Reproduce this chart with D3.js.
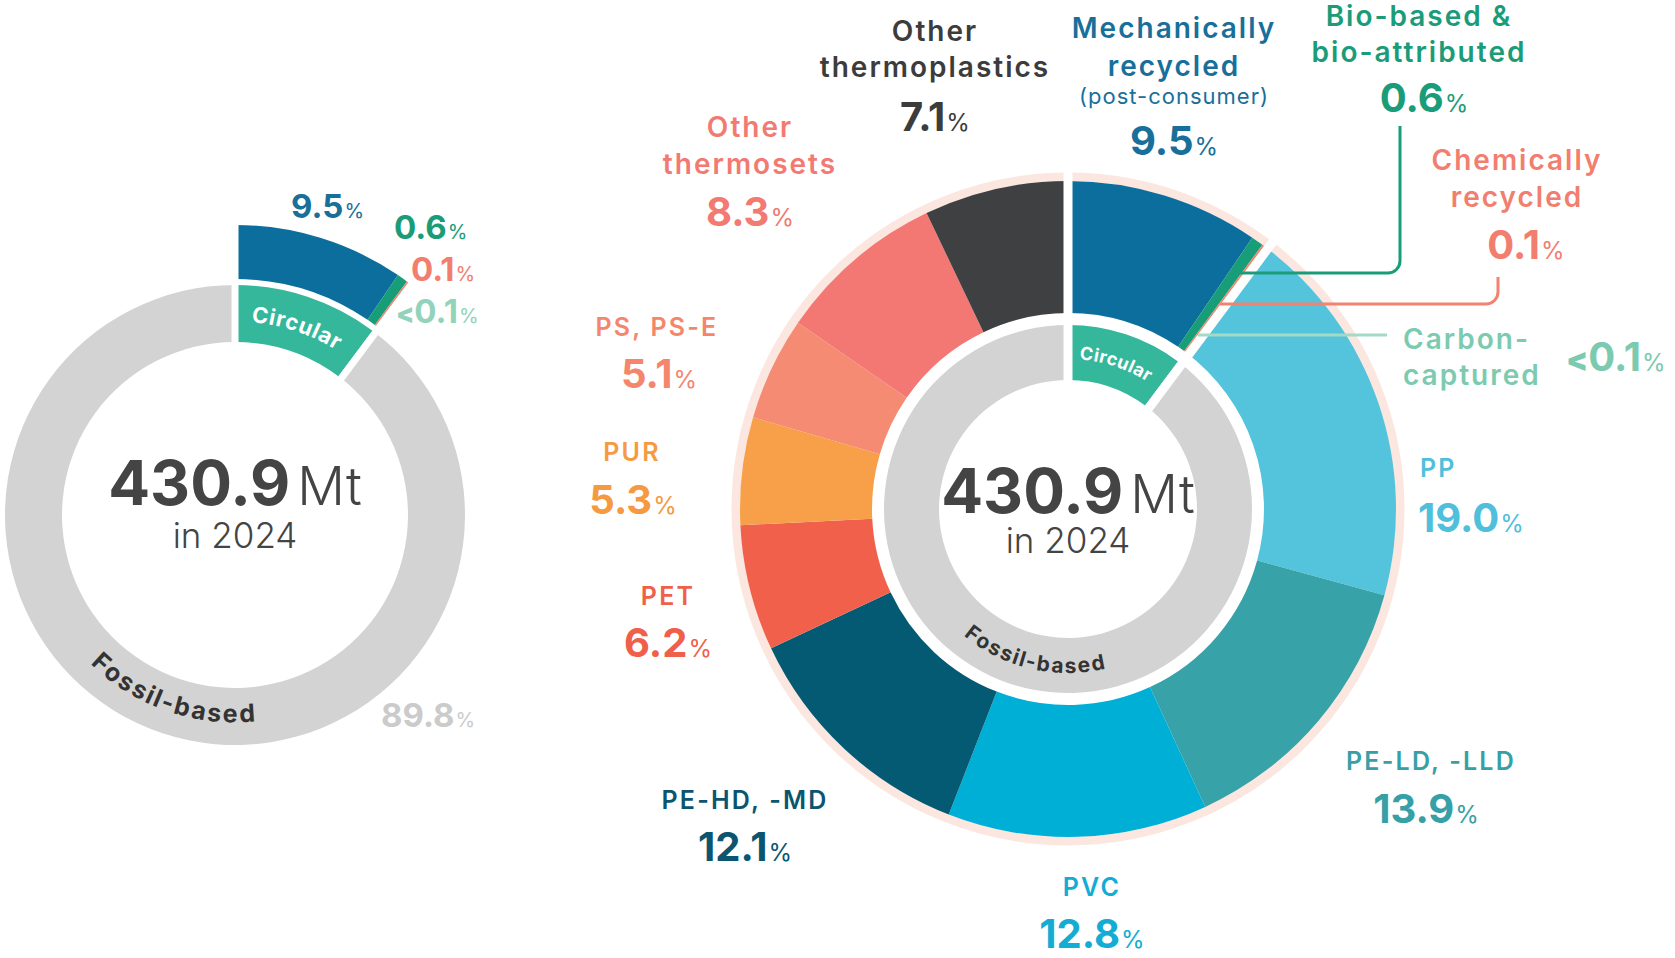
<!DOCTYPE html>
<html>
<head>
<meta charset="utf-8">
<script src="https://cdn.jsdelivr.net/npm/d3@7"></script>
<style>
  body { margin: 0; background: #fff; }
  svg { display: block; }
  text { font-family: Inter, "Open Sans", sans-serif; }
</style>
</head>
<body>
<svg id="chart" width="1675" height="958"></svg>
<script>
// ---- data (shares of 2024 plastics production, %)
const circularNames = ["Mechanically\nrecycled", "Bio-based &\nbio-attributed", "Chemically\nrecycled", "Carbon-\ncaptured"];
const circularShares = [9.5, 0.6, 0.1, 0.05];
const circularText = ["9.5", "0.6", "0.1", "<0.1"];

const fossilNames = ["PP", "PE-LD, -LLD", "PVC", "PE-HD, -MD", "PET", "PUR", "PS, PS-E", "Other\nthermosets", "Other\nthermoplastics"];
const fossilShares = [19.0, 13.9, 12.8, 12.1, 6.2, 5.3, 5.1, 8.3, 7.1];
const fossilText = ["19.0", "13.9", "12.8", "12.1", "6.2", "5.3", "5.1", "8.3", "7.1"];

const groupNames = ["Circular", "Fossil-based"];
const groupShares = [10.2, 89.8];
const groupText = ["", "89.8"];

const totalMt = "430.9";
const yearText = "in 2024";

// ---- colours
const circularColors = ["#0b6e9c", "#179e78", "#f2836f", "#86d0b6"];
const circularInk = ["#186f9a", "#1b9c78", "#f17e6e", "#7ccab0"];
const fossilColors = ["#54c3dc", "#37a2a8", "#00afd6", "#045a73", "#f1604b", "#f7a049", "#f58b72", "#f37873", "#3e4042"];
const fossilInk = ["#4fbfdc", "#36a0a6", "#12acd4", "#0b5570", "#ef5f49", "#f59a40", "#f4866c", "#f27a72", "#3c3c3c"];
const groupColors = ["#35b79b", "#d3d3d3"];

const svg = d3.select("#chart");

const segments = circularNames.map((n, i) => ({ name: n, share: circularShares[i], txt: circularText[i], color: circularColors[i], ink: circularInk[i], group: 0 }))
  .concat(fossilNames.map((n, i) => ({ name: n, share: fossilShares[i], txt: fossilText[i], color: fossilColors[i], ink: fossilInk[i], group: 1 })));
const groups = groupNames.map((n, i) => ({ name: n, share: groupShares[i], color: groupColors[i] }));

const pie = d3.pie().sort(null).value(d => d.share);
const segArcs = pie(segments);
const groupArcs = pie(groups);

// point on a circle for a d3 angle (0 = top, clockwise)
const polar = (r, a) => [r * Math.sin(a), -r * Math.cos(a)];

function arcPath(r, a0, a1) {
  const p0 = polar(r, a0), p1 = polar(r, a1);
  const sweep = a1 > a0 ? 1 : 0;
  return `M${p0[0]},${p0[1]}A${r},${r} 0 0 ${sweep} ${p1[0]},${p1[1]}`;
}

// white constant-width gap along a radius; side>0 pushes it into the following slice
function gapLine(g, a, w, side, rMax) {
  const n = [Math.cos(a), Math.sin(a)];
  const off = side * w / 2;
  const p1 = polar(rMax, a);
  g.append("line")
    .attr("x1", n[0] * off).attr("y1", n[1] * off)
    .attr("x2", p1[0] + n[0] * off).attr("y2", p1[1] + n[1] * off)
    .attr("stroke", "#fff").attr("stroke-width", w);
}

let pathId = 0;
function curvedText(g, r, a0, a1, label, size, color, spacing) {
  const id = "tp" + (pathId++);
  g.append("path").attr("id", id).attr("d", arcPath(r, a0, a1)).attr("fill", "none");
  g.append("text")
    .attr("font-size", size).attr("font-weight", 700).attr("fill", color)
    .attr("letter-spacing", spacing)
    .attr("dy", "0.36em")
    .append("textPath").attr("href", "#" + id)
    .attr("startOffset", "50%").attr("text-anchor", "middle")
    .text(label);
}

function pctLabel(g, x, y, anchor, num, color, numSize, pctSize) {
  const t = g.append("text").attr("x", x).attr("y", y).attr("text-anchor", anchor).attr("fill", color);
  if (num.startsWith("<")) {
    t.append("tspan").attr("font-weight", 900).attr("font-size", numSize * 0.8).attr("dx", 0).text("<");
    num = num.slice(1);
  }
  t.append("tspan").attr("font-weight", 700).attr("font-size", numSize).text(num);
  t.append("tspan").attr("font-weight", 400).attr("font-size", pctSize).attr("dx", 1).text("%");
}

function centreText(g, dyNum, dyYear) {
  const t = g.append("text").attr("text-anchor", "middle").attr("y", dyNum).attr("fill", "#444");
  t.append("tspan").attr("font-weight", 700).attr("font-size", 62).text(totalMt);
  t.append("tspan").attr("font-weight", 300).attr("font-size", 53).attr("dx", 7).text("Mt");
  g.append("text").attr("text-anchor", "middle").attr("y", dyYear).attr("fill", "#444")
    .attr("font-weight", 300).attr("font-size", 35).text(yearText);
}

// ================= left donut =================
const L = { cx: 235, cy: 515, inIn: 173, inOut: 230, exIn: 236, exOut: 290 };
const gL = svg.append("g").attr("transform", `translate(${L.cx},${L.cy})`);

gL.selectAll("path.grp").data(groupArcs).join("path")
  .attr("class", "grp")
  .attr("d", d3.arc().innerRadius(L.inIn).outerRadius(L.inOut))
  .attr("fill", d => d.data.color);

gL.selectAll("path.ex").data(segArcs.filter(d => d.data.group === 0)).join("path")
  .attr("class", "ex")
  .attr("d", d3.arc().innerRadius(L.exIn).outerRadius(L.exOut))
  .attr("fill", d => d.data.color);

gapLine(gL, 0, 7, 0, 300);
gapLine(gL, groupArcs[1].startAngle, 7, 1, 300);

{
  const c = groupArcs[0], m = (c.startAngle + c.endAngle) / 2;
  curvedText(gL, (L.inIn + L.inOut) / 2, m - 0.7, m + 0.7, "Circular", 22, "#fff", 1.2);
  const fm = 2 * Math.PI * 0.553;
  curvedText(gL, (L.inIn + L.inOut) / 2 - 3, fm + 0.8, fm - 0.8, "Fossil-based", 25, "#333", 1.4);
}
centreText(gL, -10, 33);

// left labels for the exploded circular slices and the fossil share
const leftLabelLayout = [
  { x: 291, y: 218 },
  { x: 394, y: 239 },
  { x: 411, y: 281 },
  { x: 396, y: 323 }
];
segments.filter(d => d.group === 0).forEach((d, i) => {
  const p = leftLabelLayout[i];
  const ink = i === 3 ? "#93d2bb" : d.ink;
  pctLabel(svg, p.x, p.y, "start", d.txt, ink, 33, 20);
});
pctLabel(svg, 381, 727, "start", groupText[1], "#cbcbcb", 33, 20);

// ================= right donut =================
const R = { cx: 1068, cy: 509, inIn: 129, inOut: 184, outIn: 196, outOut: 328 };
const gR = svg.append("g").attr("transform", `translate(${R.cx},${R.cy})`);

gR.append("circle").attr("r", R.outOut + 4).attr("fill", "none")
  .attr("stroke", "#fbe7df").attr("stroke-width", 9);

gR.selectAll("path.seg").data(segArcs).join("path")
  .attr("class", "seg")
  .attr("d", d3.arc().innerRadius(R.outIn).outerRadius(R.outOut))
  .attr("fill", d => d.data.color);

gR.selectAll("path.grp").data(groupArcs).join("path")
  .attr("class", "grp")
  .attr("d", d3.arc().innerRadius(R.inIn).outerRadius(R.inOut))
  .attr("fill", d => d.data.color);

gapLine(gR, 0, 9, 0, 345);
gapLine(gR, groupArcs[1].startAngle, 9, 1, 345);

{
  const c = groupArcs[0], m = (c.startAngle + c.endAngle) / 2;
  curvedText(gR, (R.inIn + R.inOut) / 2, m - 0.7, m + 0.7, "Circular", 18, "#fff", 0.8);
  const fm = 2 * Math.PI * 0.536;
  curvedText(gR, (R.inIn + R.inOut) / 2, fm + 0.9, fm - 0.9, "Fossil-based", 21, "#333", 1.1);
}
centreText(gR, 4, 44);

// label anchors (page coordinates), one per segment, same order as segments
const rightLabelLayout = [
  { x: 1174, y: 38, anchor: "middle", lh: 38, size: 28, sub: "(post-consumer)", px: 1174, py: 155, pa: "middle" },
  { x: 1419, y: 26, anchor: "middle", lh: 36, size: 28, px: 1424, py: 112, pa: "middle" },
  { x: 1517, y: 170, anchor: "middle", lh: 37, size: 28, px: 1526, py: 259, pa: "middle" },
  { x: 1403, y: 349, anchor: "start", lh: 36, size: 28, px: 1566, py: 371, pa: "start" },
  { x: 1420, y: 477, anchor: "start", lh: 0, size: 25, px: 1418, py: 532, pa: "start" },
  { x: 1431, y: 770, anchor: "middle", lh: 0, size: 25, px: 1426, py: 823, pa: "middle" },
  { x: 1092, y: 896, anchor: "middle", lh: 0, size: 25, px: 1092, py: 948, pa: "middle" },
  { x: 745, y: 809, anchor: "middle", lh: 0, size: 25, px: 745, py: 861, pa: "middle" },
  { x: 668, y: 605, anchor: "middle", lh: 0, size: 25, px: 668, py: 657, pa: "middle" },
  { x: 632, y: 461, anchor: "middle", lh: 0, size: 25, px: 633, py: 514, pa: "middle" },
  { x: 657, y: 336, anchor: "middle", lh: 0, size: 25, px: 659, py: 388, pa: "middle" },
  { x: 750, y: 137, anchor: "middle", lh: 37, size: 28, px: 750, py: 226, pa: "middle" },
  { x: 935, y: 41, anchor: "middle", lh: 36, size: 28, px: 935, py: 131, pa: "middle" }
];

segments.forEach((d, i) => {
  const p = rightLabelLayout[i];
  const lines = d.name.split("\n");
  const t = svg.append("text").attr("text-anchor", p.anchor).attr("fill", d.ink)
    .attr("font-size", p.size).attr("font-weight", 600)
    .attr("letter-spacing", p.size > 26 ? 2 : 2.2);
  lines.forEach((ln, j) => t.append("tspan").attr("x", p.x).attr("y", p.y + j * p.lh).text(ln));
  if (p.sub) {
    svg.append("text").attr("text-anchor", p.anchor).attr("fill", d.ink)
      .attr("x", p.x).attr("y", p.y + lines.length * p.lh - 10)
      .attr("font-size", 22).attr("font-weight", 400).attr("letter-spacing", 1)
      .text(p.sub);
  }
  pctLabel(svg, p.px, p.py, p.pa, d.txt, d.ink, 40, 24);
});

// leader lines for the thin circular slices
function sliceX(arc, y) {
  const a = (arc.startAngle + arc.endAngle) / 2;
  const r = (R.cy - y) / Math.cos(a);
  return R.cx + r * Math.sin(a);
}
const leaders = [
  { i: 1, vx: 1400, vy: 126, hy: 273, ink: "#1b9c78" },
  { i: 2, vx: 1498, vy: 277, hy: 304, ink: "#f2836f" }
];
leaders.forEach(l => {
  const p = d3.path();
  p.moveTo(l.vx, l.vy);
  p.lineTo(l.vx, l.hy - 12);
  p.arcTo(l.vx, l.hy, l.vx - 12, l.hy, 12);
  p.lineTo(sliceX(segArcs[l.i], l.hy), l.hy);
  svg.append("path").attr("d", p.toString()).attr("fill", "none")
    .attr("stroke", l.ink).attr("stroke-width", 3);
});
svg.append("line")
  .attr("x1", sliceX(segArcs[3], 335)).attr("y1", 335)
  .attr("x2", 1387).attr("y2", 335)
  .attr("stroke", "#a3dac6").attr("stroke-width", 3);
</script>
</body>
</html>
